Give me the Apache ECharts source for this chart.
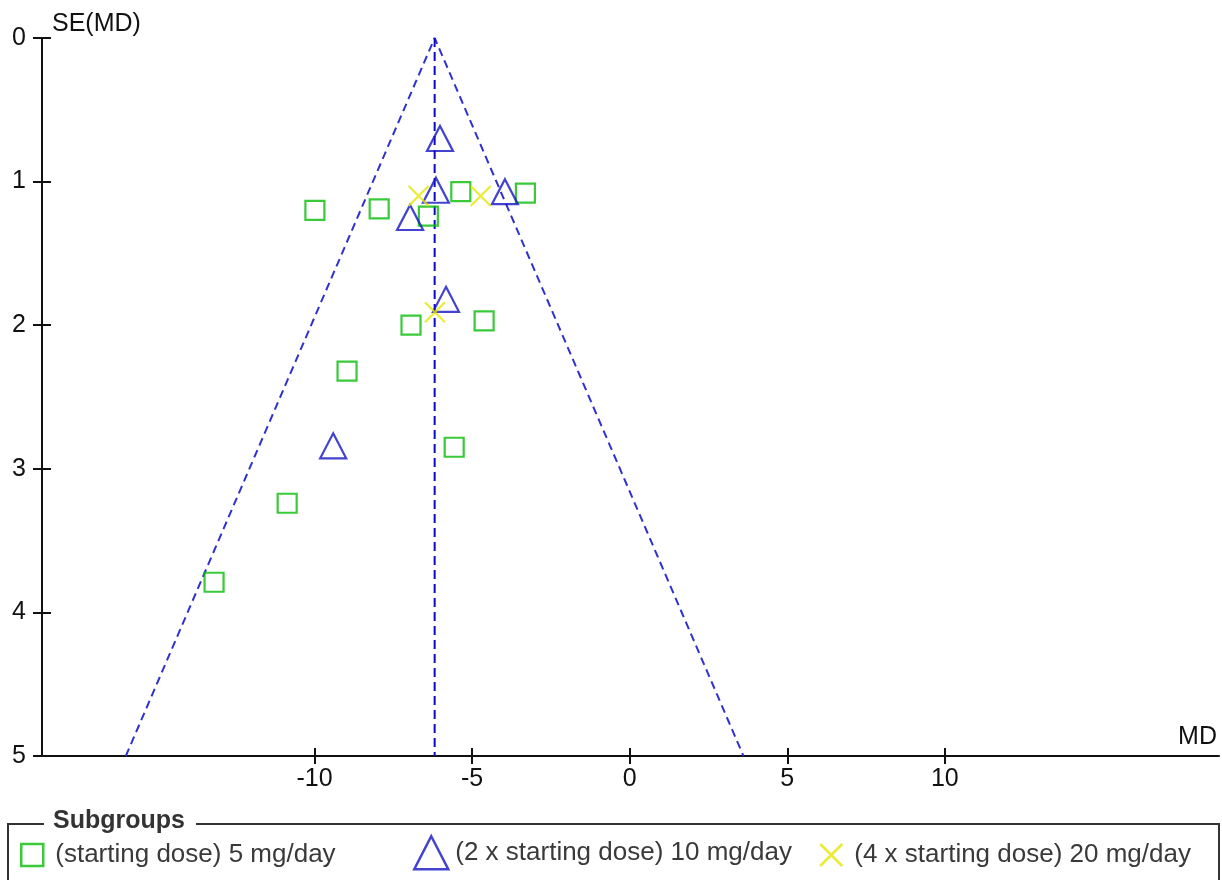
<!DOCTYPE html>
<html>
<head>
<meta charset="utf-8">
<title>Funnel plot</title>
<script src="https://cdn.jsdelivr.net/npm/echarts@6/dist/echarts.min.js"></script>
<style>
  html, body { margin: 0; padding: 0; background: #fff; }
  #chart { width: 1222px; height: 880px; }
</style>
</head>
<body>
<div id="chart"></div>
<script>
// subgroup names
var groupNames = [
  "(starting dose) 5 mg/day",
  "(2 x starting dose) 10 mg/day",
  "(4 x starting dose) 20 mg/day"
];

// 5 mg/day (squares)
var md5 = [-9.99, -7.95, -6.39, -5.36, -3.31, -6.94, -4.62, -8.97, -5.57, -10.87, -13.19];
var se5 = [1.20, 1.19, 1.24, 1.07, 1.08, 2.00, 1.97, 2.32, 2.85, 3.24, 3.79];

// 10 mg/day (triangles)
var md10 = [-6.02, -6.15, -3.96, -6.97, -5.83, -9.41];
var se10 = [0.70, 1.06, 1.07, 1.25, 1.82, 2.84];

// 20 mg/day (crosses)
var md20 = [-6.70, -4.73, -6.18];
var se20 = [1.10, 1.10, 1.91];

// pooled estimate and funnel
var pooledMD = -6.19;
var maxSE = 5;
var z = 1.96;

var xTicks = [-10, -5, 0, 5, 10];

function pairs(xs, ys) {
  return xs.map(function (x, i) { return [x, ys[i]]; });
}

var green = "#08bc08";
var blue = "#1414c4";
var yellow = "#e6e600";
var crossPath = "path://M0,0L20,20M20,0L0,20";
var font = "'Liberation Sans', Arial, sans-serif";

var chart = echarts.init(document.getElementById("chart"));

function legendBox(name, left, top, w, h, icon, color, textPad) {
  return {
    data: [{ name: name, icon: icon,
      itemStyle: { color: "rgba(0,0,0,0)", borderColor: color, borderWidth: 2.5 } }],
    left: left, top: top, padding: 0,
    itemWidth: w, itemHeight: h,
    selectedMode: false,
    textStyle: { fontFamily: font, fontSize: 26, color: "#3a3a3a", padding: textPad }
  };
}

chart.setOption({
  animation: false,
  grid: { left: 42, right: 3, top: 38, bottom: 124, containLabel: false },
  xAxis: [
    {
      type: "value", min: -18.65, max: 18.7,
      name: "MD", nameLocation: "end", nameGap: 0,
      nameTextStyle: { fontFamily: font, fontSize: 25, color: "#111", align: "right",
        verticalAlign: "bottom", padding: [0, 2, 6, 0] },
      axisLine: { show: true, onZero: false, lineStyle: { color: "#111", width: 2 } },
      axisTick: { show: true, inside: false, length: 8, customValues: xTicks,
        lineStyle: { color: "#111", width: 2 } },
      axisLabel: { show: true, customValues: xTicks, margin: 11,
        fontFamily: font, fontSize: 25, color: "#111" },
      splitLine: { show: false }
    },
    {
      type: "value", min: -18.65, max: 18.7, position: "bottom",
      axisLine: { show: false, onZero: false },
      axisTick: { show: true, inside: true, length: 8, customValues: xTicks,
        lineStyle: { color: "#111", width: 2 } },
      axisLabel: { show: false },
      splitLine: { show: false }
    }
  ],
  yAxis: [
    {
      type: "value", inverse: true, min: 0, max: maxSE, interval: 1,
      name: "SE(MD)", nameLocation: "start", nameGap: 14,
      nameTextStyle: { fontFamily: font, fontSize: 25, color: "#111", align: "left",
        verticalAlign: "middle", padding: [0, 0, 0, 10] },
      axisLine: { show: true, onZero: false, lineStyle: { color: "#111", width: 2 } },
      axisTick: { show: true, inside: false, length: 9, lineStyle: { color: "#111", width: 2 } },
      axisLabel: { show: true, margin: 16, fontFamily: font, fontSize: 25, color: "#111" },
      splitLine: { show: false }
    },
    {
      type: "value", inverse: true, min: 0, max: maxSE, interval: 1, position: "left",
      axisLine: { show: false, onZero: false },
      axisTick: { show: true, inside: true, length: 9, lineStyle: { color: "#111", width: 2 } },
      axisLabel: { show: false },
      splitLine: { show: false }
    }
  ],
  legend: [
    legendBox(groupNames[0], 20, 842, 22, 22, "rect", green, [0, 0, 0, 7]),
    legendBox(groupNames[1], 413, 835, 34, 33, "triangle", blue, [6, 0, 0, 2]),
    legendBox(groupNames[2], 819, 842, 24, 22, crossPath, yellow, [0, 0, 0, 6])
  ],
  graphic: [
    { type: "polyline", shape: { points: [[44, 824], [8, 824], [8, 900]] },
      style: { stroke: "#333", lineWidth: 2, fill: null } },
    { type: "polyline", shape: { points: [[196, 824], [1219, 824], [1219, 900]] },
      style: { stroke: "#333", lineWidth: 2, fill: null } },
    { type: "text", left: 53, top: 809,
      style: { text: "Subgroups", font: "bold 25px " + font, fill: "#333" } }
  ],
  series: [
    {
      type: "line", name: "funnel", xAxisIndex: 0, yAxisIndex: 0,
      data: [[pooledMD - z * maxSE, maxSE], [pooledMD, 0], [pooledMD + z * maxSE, maxSE]],
      symbol: "none", silent: true, z: 1,
      lineStyle: { color: "#3030d0", width: 2, type: [8, 5] }
    },
    {
      type: "line", name: "pooled", xAxisIndex: 0, yAxisIndex: 0,
      data: [[pooledMD, 0], [pooledMD, maxSE]],
      symbol: "none", silent: true, z: 1,
      lineStyle: { color: "#0a0ac8", width: 2, type: [9, 5] }
    },
    {
      type: "scatter", name: groupNames[0], xAxisIndex: 0, yAxisIndex: 0,
      data: pairs(md5, se5), symbol: "rect", symbolSize: 19, z: 3,
      itemStyle: { color: "rgba(0,0,0,0)", borderColor: green, borderWidth: 2.2 }
    },
    {
      type: "scatter", name: groupNames[1], xAxisIndex: 0, yAxisIndex: 0,
      data: pairs(md10, se10), symbol: "triangle", symbolSize: [26, 25], z: 3,
      itemStyle: { color: "rgba(0,0,0,0)", borderColor: blue, borderWidth: 2.2 }
    },
    {
      type: "scatter", name: groupNames[2], xAxisIndex: 0, yAxisIndex: 0,
      data: pairs(md20, se20), symbol: crossPath, symbolSize: 20, z: 3,
      itemStyle: { color: "rgba(0,0,0,0)", borderColor: yellow, borderWidth: 2.2 }
    }
  ]
});
</script>
</body>
</html>
